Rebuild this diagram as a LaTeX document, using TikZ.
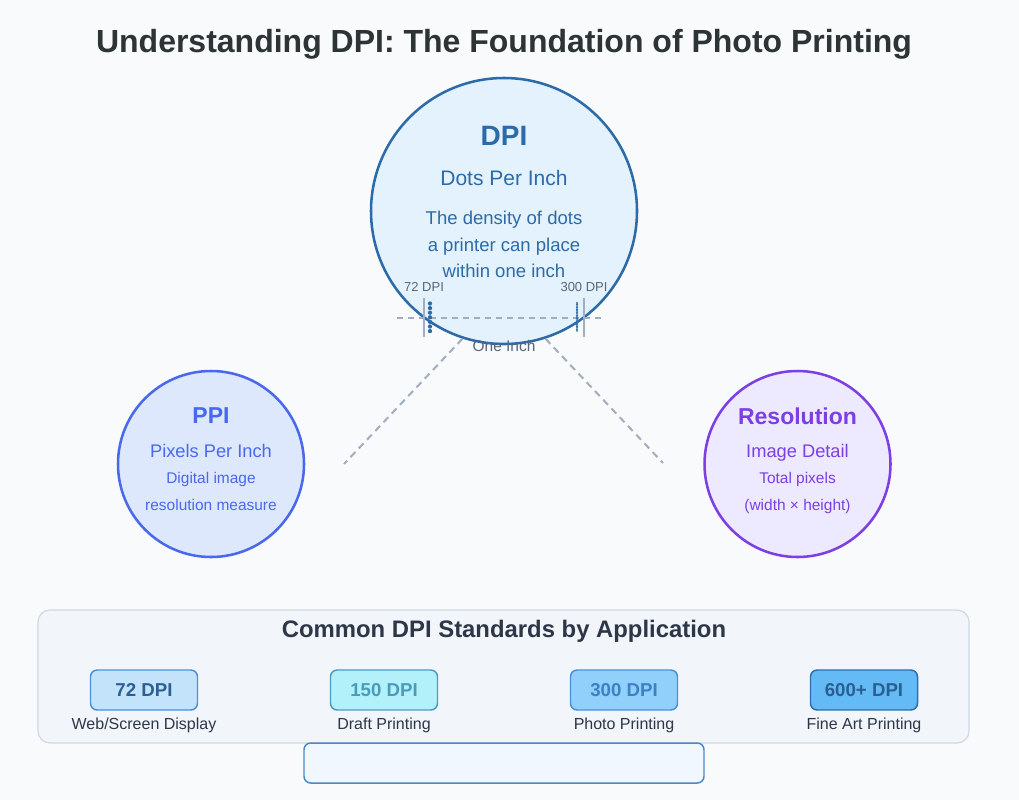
\documentclass[tikz,border=0pt]{standalone}
\usepackage{fontspec}
\setmainfont{Liberation Sans}
\usepackage{tikz}

\definecolor{pagebg}{HTML}{F9FAFB}
\definecolor{titlecol}{HTML}{2D3436}
\definecolor{dpiblue}{HTML}{2C6BA8}
\definecolor{dpifill}{HTML}{E3F2FD}
\definecolor{ppiblue}{HTML}{4A68EC}
\definecolor{ppifill}{HTML}{DDE8FD}
\definecolor{respurple}{HTML}{7B3FE4}
\definecolor{resfill}{HTML}{EDE9FE}
\definecolor{scalegray}{HTML}{A0AEC0}
\definecolor{labelgray}{HTML}{5A6678}
\definecolor{panelfill}{HTML}{F2F5FA}
\definecolor{panelline}{HTML}{CFD8E3}
\definecolor{darktext}{HTML}{2D3748}
\definecolor{fillA}{HTML}{C3E3FA}
\definecolor{fillB}{HTML}{B2F1FA}
\definecolor{fillC}{HTML}{90D0FA}
\definecolor{fillD}{HTML}{63BAF5}
\definecolor{edgeA}{HTML}{4A90D9}
\definecolor{edgeB}{HTML}{4A9BC0}
\definecolor{edgeD}{HTML}{2F6EA8}
\definecolor{textA}{HTML}{2B5F94}
\definecolor{textB}{HTML}{4A9BB8}
\definecolor{textC}{HTML}{3D80C4}
\definecolor{footfill}{HTML}{F0F7FF}
\definecolor{footline}{HTML}{4A88C8}

\begin{document}
\begin{tikzpicture}[x=0.75pt, y=-0.75pt,
    txt/.style={anchor=base, inner sep=0pt},
    ring/.style={circle, draw, line width=1.9pt, inner sep=0pt},
    scaleline/.style={draw=scalegray, line width=1.1pt},
    guide/.style={draw=scalegray, line width=1.5pt, dash pattern=on 5.25pt off 3.75pt},
    stdbox/.style={rounded corners=5pt, draw, line width=1.1pt, minimum width=80.25pt,
        minimum height=30pt, inner sep=0pt, font=\fontsize{14}{16}\selectfont\bfseries},
    caption/.style={txt, text=darktext, font=\fontsize{12}{14}\selectfont}
]

% Page background
\fill[pagebg] (0,0) rectangle (1019,800);

% Title
\node[txt, text=titlecol, font=\fontsize{24}{28}\selectfont\bfseries] (title) at (504,52)
    {Understanding DPI: The Foundation of Photo Printing};

% DPI circle
\node[ring, draw=dpiblue, fill=dpifill, minimum size=199.5pt] (dpi) at (504,211) {};
\node[txt, text=dpiblue, font=\fontsize{21}{25}\selectfont\bfseries] (dpiname) at (504,145) {DPI};
\node[txt, text=dpiblue, font=\fontsize{15.75}{19}\selectfont] (dpisub) at (504,185) {Dots Per Inch};
\foreach \t/\yy in {The density of dots/224, a printer can place/251, within one inch/277}
    \node[txt, text=dpiblue, font=\fontsize{13.9}{17}\selectfont] (dpiline\yy) at (504,\yy) {\t};

% One inch scale
\draw[scaleline, dash pattern=on 4.5pt off 3.75pt] (397,318) -- (606,318);
\draw[scaleline] (424,298) -- (424,337);
\draw[scaleline] (584,298) -- (584,337);
\foreach \i in {0,...,6}
    \fill[dpiblue] (430,303.5+4.6*\i) circle (1.6pt);
\foreach \i in {0,...,18}
    \fill[dpiblue] (577,303+1.55*\i) circle (0.8pt);
\node[txt, text=labelgray, font=\fontsize{9.75}{12}\selectfont] (lab72) at (424,291) {72 DPI};
\node[txt, text=labelgray, font=\fontsize{9.75}{12}\selectfont] (lab300) at (584,291) {300 DPI};
\node[txt, text=labelgray, font=\fontsize{11.6}{14}\selectfont] (inch) at (504,351) {One Inch};

% PPI circle
\node[ring, draw=ppiblue, fill=ppifill, minimum size=139.5pt] (ppi) at (211,464) {};
\node[txt, text=ppiblue, font=\fontsize{17.25}{20}\selectfont\bfseries] (ppiname) at (211,423.5) {PPI};
\node[txt, text=ppiblue, font=\fontsize{13.7}{16}\selectfont] (ppisub) at (211,457) {Pixels Per Inch};
\node[txt, text=ppiblue, font=\fontsize{11.6}{14}\selectfont] (ppil1) at (211,483.5) {Digital image};
\node[txt, text=ppiblue, font=\fontsize{11.6}{14}\selectfont] (ppil2) at (211,510) {resolution measure};

% Resolution circle
\node[ring, draw=respurple, fill=resfill, minimum size=139.5pt] (res) at (797.5,464) {};
\node[txt, text=respurple, font=\fontsize{17.25}{20}\selectfont\bfseries] (resname) at (797.5,424) {Resolution};
\node[txt, text=respurple, font=\fontsize{13.7}{16}\selectfont] (ressub) at (797.5,457) {Image Detail};
\node[txt, text=respurple, font=\fontsize{11.6}{14}\selectfont] (resl1) at (797.5,483.5) {Total pixels};
\node[txt, text=respurple, font=\fontsize{11.6}{14}\selectfont] (resl2) at (797.5,510) {(width × height)};

% Dashed guides
\coordinate (ppiend) at (344,464);
\coordinate (resend) at (663,463);
\draw[guide] (dpi.252) -- (ppiend);
\draw[guide] (dpi.288) -- (resend);

% Standards panel
\draw[draw=panelline, fill=panelfill, rounded corners=9pt, line width=0.9pt] (38,610) rectangle (969,743);
\node[txt, text=darktext, font=\fontsize{17.9}{21}\selectfont\bfseries] (stdtitle) at (504,637)
    {Common DPI Standards by Application};

\node[stdbox, fill=fillA, draw=edgeA, text=textA] (b72) at (144,690) {72 DPI};
\node[stdbox, fill=fillB, draw=edgeB, text=textB] (b150) at (384,690) {150 DPI};
\node[stdbox, fill=fillC, draw=edgeA, text=textC] (b300) at (624,690) {300 DPI};
\node[stdbox, fill=fillD, draw=edgeD, text=textA] (b600) at (864,690) {600+ DPI};

\node[caption] (c72) at (144,729) {Web/Screen Display};
\node[caption] (c150) at (384,729) {Draft Printing};
\node[caption] (c300) at (624,729) {Photo Printing};
\node[caption] (c600) at (864,729) {Fine Art Printing};

% Empty note box
\draw[draw=footline, fill=footfill, rounded corners=5pt, line width=1.1pt] (304,743) rectangle (704,783);

\end{tikzpicture}
\end{document}
